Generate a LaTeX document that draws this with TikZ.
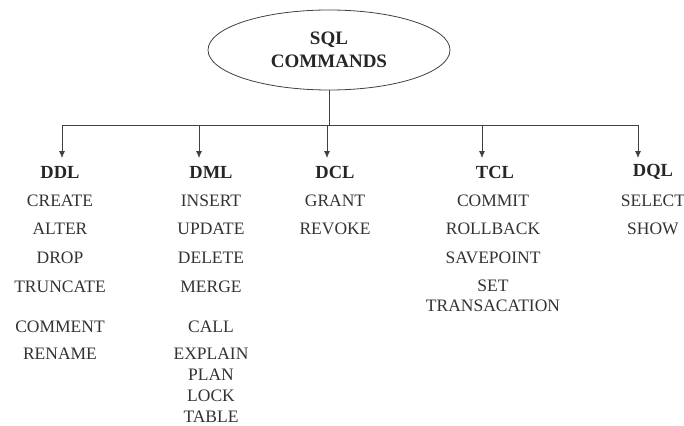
\documentclass[tikz,border=0pt]{standalone}
\usepackage{fontspec}
\setmainfont{Liberation Serif}
\usetikzlibrary{shapes.geometric,arrows.meta}

\tikzset{
  cmdgroup/.style = {font=\fontsize{18.5}{20}\selectfont\bfseries, text=black!85, inner sep=0pt},
  cmditem/.style = {font=\fontsize{17.5}{20}\selectfont, text=black!80, inner sep=0pt, align=center},
  link/.style = {draw=black!75, line width=0.8pt},
  down/.style = {link, -{Latex[length=7pt,width=6pt]}}
}

\begin{document}
\begin{tikzpicture}[x=1pt, y=-1pt]
    \useasboundingbox (0, 0) rectangle (684, 425);

    \node[ellipse, draw=black!75, line width=0.8pt, minimum width=242pt,
      minimum height=80pt, align=center, inner sep=0pt,
      font=\fontsize{19}{23}\selectfont\bfseries, text=black!85]
      (root) at (329, 50) {SQL\\COMMANDS};

    % bus line
    \coordinate (busL) at (62, 125);
    \coordinate (busR) at (638, 125);
    \coordinate (busM) at (329, 125);
    \draw[link] (root.south) -- (busM);
    \draw[link] (busL) -- (busR);

    % arrow tips
    \coordinate (ddlin) at (62, 158);
    \coordinate (dmlin) at (199, 158);
    \coordinate (dclin) at (327, 158);
    \coordinate (tclin) at (482, 158);
    \coordinate (dqlin) at (638, 158);

    \draw[down] (busL) -- (ddlin);
    \draw[down] (busL -| dmlin) -- (dmlin);
    \draw[down] (busL -| dclin) -- (dclin);
    \draw[down] (busL -| tclin) -- (tclin);
    \draw[down] (busR) -- (dqlin);

    % groups
    \node[cmdgroup] (ddl) at (60, 172) {DDL};
    \node[cmdgroup] (dml) at (211, 172) {DML};
    \node[cmdgroup] (dcl) at (335, 172) {DCL};
    \node[cmdgroup] (tcl) at (495, 172) {TCL};
    \node[cmdgroup] (dql) at (653, 172) {DQL};

    % DDL commands
    \node[cmditem] (create) at (60, 201) {CREATE};
    \node[cmditem] (alter) at (60, 229) {ALTER};
    \node[cmditem] (drop) at (60, 258) {DROP};
    \node[cmditem] (truncate) at (60, 287) {TRUNCATE};
    \node[cmditem] (comment) at (60, 327) {COMMENT};
    \node[cmditem] (rename) at (60, 354) {RENAME};

    % DML commands
    \node[cmditem] (insert) at (211, 201) {INSERT};
    \node[cmditem] (update) at (211, 229) {UPDATE};
    \node[cmditem] (delete) at (211, 258) {DELETE};
    \node[cmditem] (merge) at (211, 287) {MERGE};
    \node[cmditem] (call) at (211, 327) {CALL};
    \node[cmditem] (explain) at (211, 354) {EXPLAIN};
    \node[cmditem] (plan) at (211, 375) {PLAN};
    \node[cmditem] (lock) at (211, 396) {LOCK};
    \node[cmditem] (table) at (211, 417) {TABLE};

    % DCL commands
    \node[cmditem] (grant) at (335, 201) {GRANT};
    \node[cmditem] (revoke) at (335, 229) {REVOKE};

    % TCL commands
    \node[cmditem] (commit) at (493, 201) {COMMIT};
    \node[cmditem] (rollback) at (493, 229) {ROLLBACK};
    \node[cmditem] (savepoint) at (493, 258) {SAVEPOINT};
    \node[cmditem] (set) at (493, 286) {SET};
    \node[cmditem] (transac) at (493, 306) {TRANSACATION};

    % DQL commands
    \node[cmditem] (select) at (653, 201) {SELECT};
    \node[cmditem] (show) at (653, 229) {SHOW};

  \end{tikzpicture}
\end{document}
